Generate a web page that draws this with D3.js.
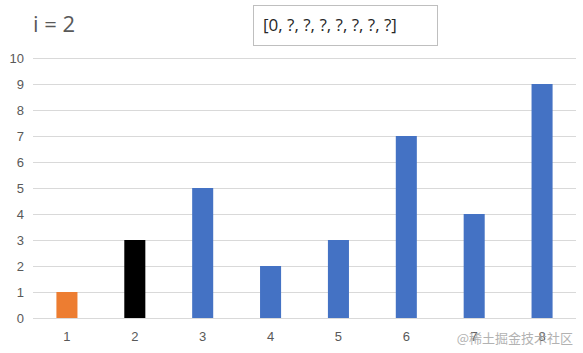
<!DOCTYPE html>
<html><head><meta charset="utf-8">
<script src="https://cdn.jsdelivr.net/npm/d3@7/dist/d3.min.js"></script>
<style>body{margin:0;background:#fff}svg{display:block;font-family:"Open Sans","Liberation Sans",sans-serif}</style>
</head><body>
<script>
const categories = ["1","2","3","4","5","6","7","8"];
const values = [1,3,5,2,3,7,4,9];
const barColors = ["#ED7D31","#000000","#4472C4","#4472C4","#4472C4","#4472C4","#4472C4","#4472C4"];
const yTicks = [0,1,2,3,4,5,6,7,8,9,10];
const titleText = "i = 2";
const arrayText = "[0, ?, ?, ?, ?, ?, ?, ?]";
const watermark = "@稀土掘金技术社区";

const W = 583, H = 353;
const svg = d3.select("body").append("svg").attr("width", W).attr("height", H);
const x = d3.scaleBand().domain(categories).range([33, 576]).paddingInner(0.69).paddingOuter(0.345);
const y = d3.scaleLinear().domain([0, 10]).range([318, 58]);

svg.append("g").selectAll("line").data(yTicks).join("line")
  .attr("x1", 33).attr("x2", 576)
  .attr("y1", d => y(d) + 0.5).attr("y2", d => y(d) + 0.5)
  .attr("stroke", "#d9d9d9").attr("stroke-width", 1);

const yAxis = svg.append("g").attr("transform", "translate(33,0)")
  .call(d3.axisLeft(y).tickValues(yTicks).tickSize(0).tickPadding(9));
yAxis.select(".domain").remove();
yAxis.selectAll("text").attr("fill", "#595959").attr("font-size", 13);

svg.append("g").selectAll("rect").data(values).join("rect")
  .attr("x", (d, i) => x(categories[i]))
  .attr("width", x.bandwidth())
  .attr("y", d => y(d))
  .attr("height", d => y(0) - y(d))
  .attr("fill", (d, i) => barColors[i]);

const xAxis = svg.append("g").attr("transform", "translate(0,318)")
  .call(d3.axisBottom(x).tickSize(0).tickPadding(14));
xAxis.select(".domain").remove();
xAxis.selectAll("text").attr("fill", "#595959").attr("font-size", 13);

svg.append("text").attr("x", 33).attr("y", 32).attr("font-size", 22)
  .attr("fill", "#595959").text(titleText);

svg.append("rect").attr("x", 253.5).attr("y", 5.5).attr("width", 184).attr("height", 40)
  .attr("fill", "#fff").attr("stroke", "#bfbfbf");
svg.append("text").attr("x", 263).attr("y", 31).attr("font-size", 17)
  .attr("fill", "#262626").text(arrayText);

svg.append("text").attr("x", 573).attr("y", 343).attr("text-anchor", "end")
  .attr("font-size", 13).attr("fill", "#a0a0a0").attr("opacity", 0.8)
  .attr("font-family", "Noto Sans CJK SC").text(watermark);
</script>
</body></html>
